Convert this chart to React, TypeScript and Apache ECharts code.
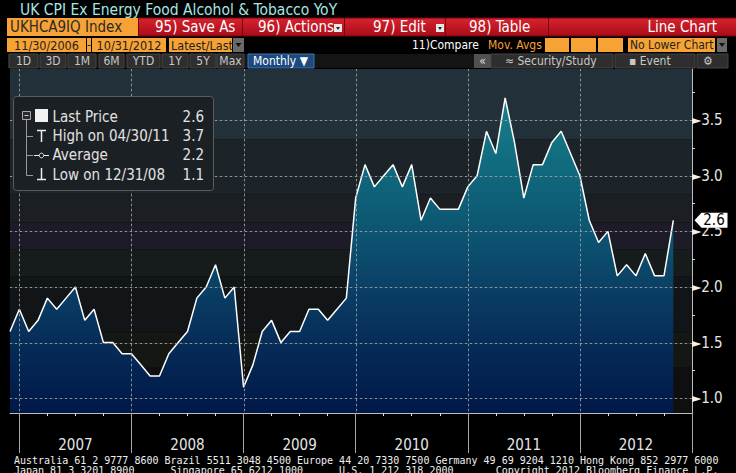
import React, { useEffect, useRef } from "react";
import * as echarts from "echarts";

// ---- data (UK CPI ex energy, food, alcohol & tobacco, YoY %) ----
const startYear = 2006;
const startMonth = 11; // Nov 2006
const v2006 = [1.6, 1.8]; // Nov, Dec
const v2007 = [1.6, 1.7, 1.9, 1.8, 1.9, 2.0, 1.7, 1.8, 1.5, 1.5, 1.4, 1.4];
const v2008 = [1.3, 1.2, 1.2, 1.4, 1.5, 1.6, 1.9, 2.0, 2.2, 1.9, 2.0, 1.1];
const v2009 = [1.3, 1.6, 1.7, 1.5, 1.6, 1.6, 1.8, 1.8, 1.7, 1.8, 1.9, 2.8];
const v2010 = [3.1, 2.9, 3.0, 3.1, 2.9, 3.1, 2.6, 2.8, 2.7, 2.7, 2.7, 2.9];
const v2011 = [3.0, 3.4, 3.2, 3.7, 3.3, 2.8, 3.1, 3.1, 3.3, 3.4, 3.2, 3.0];
const v2012 = [2.6, 2.4, 2.5, 2.1, 2.2, 2.1, 2.3, 2.1, 2.1, 2.6]; // Jan-Oct
const axisEndYear = 2012; // axis runs to Dec 2012

const yTicks = [1.0, 1.5, 2.0, 2.5, 3.0, 3.5];
const yMinorTicks = [1.25, 1.75, 2.25, 2.75, 3.25, 3.75];
const yMin = 0.867;
const yMax = 3.96;

// background band edges (values) and colours
const bandEdges = [3.96, 3.329, 2.833, 2.581, 2.337, 2.094, 1.589, 1.273, 0.867];
const bandColors = ["#22303a", "#1c2329", "#1b1f23", "#1d1b27", "#161c1c", "#121517", "#151715", "#0f0f10"];

const FONT = '"DejaVu Sans Condensed", "Liberation Sans Narrow", "DejaVu Sans", sans-serif';
const MONO = '"DejaVu Sans Mono", "Liberation Mono", monospace';

function buildCategories(): string[] {
  const out: string[] = [];
  let y = startYear;
  let m = startMonth;
  while (y < axisEndYear || (y === axisEndYear && m <= 12)) {
    out.push(`${y}-${String(m).padStart(2, "0")}`);
    m++;
    if (m > 12) { m = 1; y++; }
  }
  return out;
}

function monthEnd(cat: string): string {
  const y = +cat.slice(0, 4);
  const m = +cat.slice(5, 7);
  const d = new Date(y, m, 0).getDate();
  return `${String(m).padStart(2, "0")}/${String(d).padStart(2, "0")}/${String(y).slice(2)}`;
}

export default function App() {
  const ref = useRef<HTMLDivElement>(null);
  useEffect(() => {
    if (!ref.current) return;
    document.body.style.margin = "0";
    document.body.style.background = "#000";
    const chart = echarts.init(ref.current, undefined, { renderer: "svg" });

    const cats = buildCategories();
    const values = [...v2006, ...v2007, ...v2008, ...v2009, ...v2010, ...v2011, ...v2012];
    const seriesData: (number | null)[] = cats.map((_, i) => (i < values.length ? values[i] : null));
    const last = values[values.length - 1];
    let hiI = 0, loI = 0;
    values.forEach((v, i) => { if (v > values[hiI]) hiI = i; if (v < values[loI]) loI = i; });
    const avg = values.reduce((a, b) => a + b, 0) / values.length;
    const monthOf = (i: number) => +cats[i].slice(5, 7);
    const decIdx = cats.map((c, i) => i).filter((i) => monthOf(i) === 12 && i < cats.length - 1);

    const txt = (x: number, y: number, text: string, o: any = {}) => ({
      type: "text", x, y, silent: true,
      style: { text, fill: o.fill || "#fff", fontSize: o.size || 13, fontFamily: o.font || FONT,
        align: o.align || "left", verticalAlign: "middle", fontWeight: o.weight || "normal" },
      z: 100,
    });
    const box = (x: number, y: number, w: number, h: number, fill: any, stroke?: string) => ({
      type: "rect", shape: { x, y, width: w, height: h }, silent: true,
      style: { fill, stroke: stroke || null, lineWidth: 1 }, z: 99,
    });
    const ln = (x1: number, y1: number, x2: number, y2: number, stroke: string, w = 1) => ({
      type: "line", shape: { x1, y1, x2, y2 }, silent: true, style: { stroke, lineWidth: w }, z: 101,
    });

    const orange = "#f7a234";
    const redGrad = new echarts.graphic.LinearGradient(0, 0, 0, 1, [
      { offset: 0, color: "#d8232f" }, { offset: 1, color: "#a80c18" },
    ]);
    const dropdown = (x: number, y: number) => [
      box(x, y, 8, 8, "#e8e8e8"),
      { type: "polygon", shape: { points: [[x + 2, y + 3], [x + 6, y + 3], [x + 4, y + 6]] }, style: { fill: "#222" }, z: 101, silent: true },
    ];

    const graphics: any[] = [
      txt(20, 10, "UK CPI Ex Energy Food Alcohol & Tobacco YoY", { fill: "#a6e6e2", size: 15.5 }),
      box(7, 18, 131, 18, orange),
      txt(10, 27, "UKHCA9IQ Index", { fill: "#2a2a2a", size: 15 }),
      box(138.5, 18, 104, 18, redGrad, "#70060e"),
      box(242.5, 18, 102, 18, redGrad, "#70060e"),
      box(344.5, 18, 101, 18, redGrad, "#70060e"),
      box(445.5, 18, 103, 18, redGrad, "#70060e"),
      box(548.5, 18, 188, 18, redGrad, "#70060e"),
      txt(155, 27, "95) Save As", { size: 15 }),
      txt(258, 27, "96) Actions", { size: 15 }),
      ...dropdown(334, 24),
      txt(373, 27, "97) Edit", { size: 15 }),
      ...dropdown(436, 24),
      txt(469, 27, "98) Table", { size: 15 }),
      txt(717, 27, "Line Chart", { size: 15, align: "right" }),
      box(7, 38, 79, 14, orange),
      txt(46.5, 45, "11/30/2006", { fill: "#222", size: 12.5, align: "center" }),
      box(87, 38, 4, 14, orange),
      txt(89, 45, "-", { fill: "#222", size: 12, align: "center" }),
      box(92, 38, 74, 14, orange),
      txt(129, 45, "10/31/2012", { fill: "#222", size: 12.5, align: "center" }),
      box(169, 38, 63, 14, orange),
      txt(171, 45, "Latest/Last", { fill: "#222", size: 12.5 }),
      box(233, 38, 11, 14, "#6a6a6a"),
      { type: "polygon", shape: { points: [[235.5, 43], [241.5, 43], [238.5, 47]] }, style: { fill: "#111" }, z: 101, silent: true },
      txt(412, 45, "11)Compare", { size: 12 }),
      txt(488, 45, "Mov. Avgs", { fill: orange, size: 12 }),
      box(545, 38, 24, 14, orange),
      box(571, 38, 25, 14, orange),
      box(598, 38, 25, 14, orange),
      box(628, 38, 87, 14, orange),
      txt(630, 45, "No Lower Chart", { fill: "#222", size: 12 }),
      box(717, 38, 10, 14, "#6a6a6a"),
      { type: "polygon", shape: { points: [[719, 43], [725, 43], [722, 47]] }, style: { fill: "#111" }, z: 101, silent: true },
      box(8, 54, 720, 14, "#141414"),
    ];
    const btns: [number, number, string][] = [
      [9, 29, "1D"], [40, 26, "3D"], [68, 28, "1M"], [99, 25, "6M"], [127, 33, "YTD"],
      [162, 26, "1Y"], [190, 26, "5Y"], [217, 27, "Max"],
    ];
    btns.forEach(([x, w, t]) => {
      graphics.push(box(x, 54, w, 14, "#2e2e2e", "#444"));
      graphics.push(txt(x + w / 2, 61, t, { fill: "#c8c8c8", size: 12, align: "center" }));
    });
    graphics.push(
      box(248, 54, 66, 14, "#1c4a7c", "#3d74b0"),
      txt(253, 61, "Monthly \u25BC", { fill: "#fff", size: 12 }),
      box(474, 54, 17, 14, "#505050"),
      txt(482.5, 61, "\u00AB", { fill: "#ddd", size: 12, align: "center" }),
      box(491, 54, 122, 14, "#2e2e2e", "#444"),
      txt(505, 61, "\u2248 Security/Study", { fill: "#c8c8c8", size: 12 }),
      box(615, 54, 80, 14, "#2e2e2e", "#444"),
      txt(629, 61, "\u25AA Event", { fill: "#c8c8c8", size: 12 }),
      box(697, 54, 31, 14, "#2e2e2e", "#444"),
      txt(703, 61, "\u2699", { fill: "#c8c8c8", size: 12 }),
    );
    const legY = [117, 136, 155, 175];
    graphics.push(
      { type: "rect", shape: { x: 13.5, y: 96.5, width: 200, height: 94, r: 3 }, style: { fill: "#1b2024", stroke: "#5c5c5c", lineWidth: 1 }, z: 99, silent: true },
      box(22.5, 111.5, 8, 8, "#2a2a2a", "#aaa"),
      ln(24.5, 115.5, 28.5, 115.5, "#ccc"),
      box(35, 109, 13, 13, "#f2f2f2"),
      ln(26.5, 120, 26.5, 175.5, "#999"),
      ln(26.5, 136.5, 33, 136.5, "#999"),
      ln(26.5, 155.5, 33, 155.5, "#999"),
      ln(26.5, 175.5, 33, 175.5, "#999"),
      ln(37, 130.5, 46, 130.5, "#eee", 1.5),
      ln(41.5, 130.5, 41.5, 142, "#eee", 1.5),
      ln(34, 155.5, 49, 155.5, "#eee"),
      { type: "circle", shape: { cx: 41.5, cy: 155.5, r: 2.3 }, style: { fill: "#1b2024", stroke: "#eee", lineWidth: 1 }, z: 102, silent: true },
      ln(41.5, 168, 41.5, 179.5, "#eee", 1.5),
      ln(37, 179.5, 46, 179.5, "#eee", 1.5),
      txt(52.5, legY[0], "Last Price", { fill: "#e2e2e2", size: 15 }),
      txt(204, legY[0], last.toFixed(1), { fill: "#e2e2e2", size: 15, align: "right" }),
      txt(52.5, legY[1], `High on ${monthEnd(cats[hiI])}`, { fill: "#e2e2e2", size: 15 }),
      txt(204, legY[1], values[hiI].toFixed(1), { fill: "#e2e2e2", size: 15, align: "right" }),
      txt(52.5, legY[2], "Average", { fill: "#e2e2e2", size: 15 }),
      txt(204, legY[2], avg.toFixed(1), { fill: "#e2e2e2", size: 15, align: "right" }),
      txt(52.5, legY[3], `Low on ${monthEnd(cats[loI])}`, { fill: "#e2e2e2", size: 15 }),
      txt(204, legY[3], values[loI].toFixed(1), { fill: "#e2e2e2", size: 15, align: "right" }),
      txt(14, 460, "Australia 61 2 9777 8600 Brazil 5511 3048 4500 Europe 44 20 7330 7500 Germany 49 69 9204 1210 Hong Kong 852 2977 6000", { font: MONO, size: 10, fill: "#f0f0f0" }),
      txt(14, 470, "Japan 81 3 3201 8900      Singapore 65 6212 1000      U.S. 1 212 318 2000       Copyright 2012 Bloomberg Finance L.P.", { font: MONO, size: 10, fill: "#f0f0f0" }),
    );

    const areaGrad = new echarts.graphic.LinearGradient(0, 69, 0, 412, [
      { offset: 0, color: "#1b8898" },
      { offset: 0.12, color: "#177b8c" },
      { offset: 0.3, color: "#10687c" },
      { offset: 0.5, color: "#0c5270" },
      { offset: 0.65, color: "#0a3e64" },
      { offset: 0.8, color: "#062c58" },
      { offset: 1, color: "#001848" },
    ], true);

    // background bands, positioned through the y axis
    const bandData = bandColors.map((c, i) => [0, bandEdges[i], bandEdges[i + 1], i]);
    const renderBand = (params: any, api: any) => {
      const cs = params.coordSys;
      const y1 = api.coord([0, api.value(1)])[1];
      const y2 = api.coord([0, api.value(2)])[1];
      return {
        type: "rect", silent: true,
        shape: { x: cs.x, y: Math.min(y1, y2), width: cs.width, height: Math.abs(y2 - y1) },
        style: { fill: bandColors[api.value(3)] },
      };
    };

    // gridlines positioned through the axes (drawn above the area)
    const gridData = [
      ...yTicks.map((v) => [0, v, 0]),
      ...decIdx.map((i) => [i, yMin, 1]),
    ];
    // faint continuous underlay
    const renderGridBase = (params: any, api: any) => {
      const cs = params.coordSys;
      if (api.value(2) !== 1) {
        const y = Math.round(api.coord([0, api.value(1)])[1]);
        return { type: "rect", silent: true, shape: { x: cs.x, y, width: cs.width, height: 1 },
          style: { fill: "rgba(150,150,150,0.18)" } };
      }
      const x = Math.round(api.coord([api.value(0), yMin])[0]);
      return { type: "rect", silent: true, shape: { x, y: cs.y, width: 1, height: cs.height },
        style: { fill: "rgba(150,150,150,0.18)" } };
    };
    // dotted pattern as one path of small squares
    const renderGridDots = (params: any, api: any) => {
      const cs = params.coordSys;
      let d = "";
      if (api.value(2) !== 1) {
        const y = Math.round(api.coord([0, api.value(1)])[1]);
        for (let x = Math.round(cs.x); x < cs.x + cs.width - 1; x += 5) {
          d += `M${x} ${y}h2v1h-2Z`;
        }
      } else {
        const x = Math.round(api.coord([api.value(0), yMin])[0]);
        for (let y = Math.round(cs.y); y < cs.y + cs.height - 1; y += 5) {
          d += `M${x} ${y}h1v2h-1Z`;
        }
      }
      return { type: "path", silent: true, shape: { pathData: d }, style: { fill: "rgba(165,165,165,0.85)" } };
    };

    chart.setOption({
      animation: false,
      backgroundColor: "#000",
      grid: { left: 10, right: 44, top: 69, bottom: 60, show: false },
      xAxis: [
        {
          type: "category", data: cats, boundaryGap: false,
          axisLine: { lineStyle: { color: "#bdbdbd", width: 1 } },
          axisTick: { interval: (i: number) => monthOf(i) === 12, length: 40, lineStyle: { color: "#a8a8a8" } },
          axisLabel: { interval: (i: number) => monthOf(i) === 6, formatter: (v: string) => v.slice(0, 4),
            color: "#e6e6e6", fontSize: 15, margin: 24, fontFamily: FONT },
          splitLine: { show: false },
        },
        {
          type: "category", data: cats, boundaryGap: false, position: "bottom", offset: 0,
          axisLine: { show: false },
          axisTick: { interval: (i: number) => [3, 6, 9].includes(monthOf(i)), length: 3, lineStyle: { color: "#e0e0e0" } },
          axisLabel: { show: false },
          splitLine: { show: false },
        },
      ],
      yAxis: {
        type: "value", position: "right", min: yMin, max: yMax,
        axisLine: { show: true, lineStyle: { color: "#bdbdbd" } },
        axisTick: { show: true, customValues: yMinorTicks, length: 3, lineStyle: { color: "#e0e0e0" } },
        axisLabel: {
          customValues: yTicks, margin: 0,
          formatter: (v: number) => `{t|\u25BA}{v|${v.toFixed(1)}}`,
          rich: {
            t: { color: "#f0f0f0", fontSize: 12, fontFamily: "DejaVu Sans" },
            v: { color: "#e6e6e6", fontSize: 15, fontFamily: FONT },
          },
        },
        splitLine: { show: false },
      },
      graphic: graphics,
      series: [
        {
          name: "bands", type: "custom", z: 1, silent: true,
          data: bandData, renderItem: renderBand, encode: { x: 0, y: [1, 2] },
        },
        {
          name: "Last Price", type: "line", data: seriesData, z: 3, symbol: "none", silent: true,
          lineStyle: { color: "#ffffff", width: 1.5 },
          areaStyle: { color: areaGrad, opacity: 1 },
          markPoint: {
            silent: true,
            symbol: "path://M0,7.5 L7,0 L33,0 L33,15 L7,15 Z",
            symbolSize: [33, 15], symbolOffset: [19, 0], symbolKeepAspect: false,
            itemStyle: { color: "#ffffff" },
            label: { show: true, formatter: last.toFixed(1), color: "#000", fontSize: 15, fontFamily: FONT, offset: [3, 0] },
            data: [{ coord: [cats[cats.length - 1], last] }],
          },
        },
        {
          name: "gridBase", type: "custom", z: 4, silent: true,
          data: gridData, renderItem: renderGridBase, encode: { x: 0, y: 1 },
        },
        {
          name: "gridDots", type: "custom", z: 5, silent: true,
          data: gridData, renderItem: renderGridDots, encode: { x: 0, y: 1 },
        },
      ],
    });
    return () => chart.dispose();
  }, []);
  return <div ref={ref} style={{ position: "fixed", left: 0, top: 0, width: 736, height: 473, background: "#000" }} />;
}
